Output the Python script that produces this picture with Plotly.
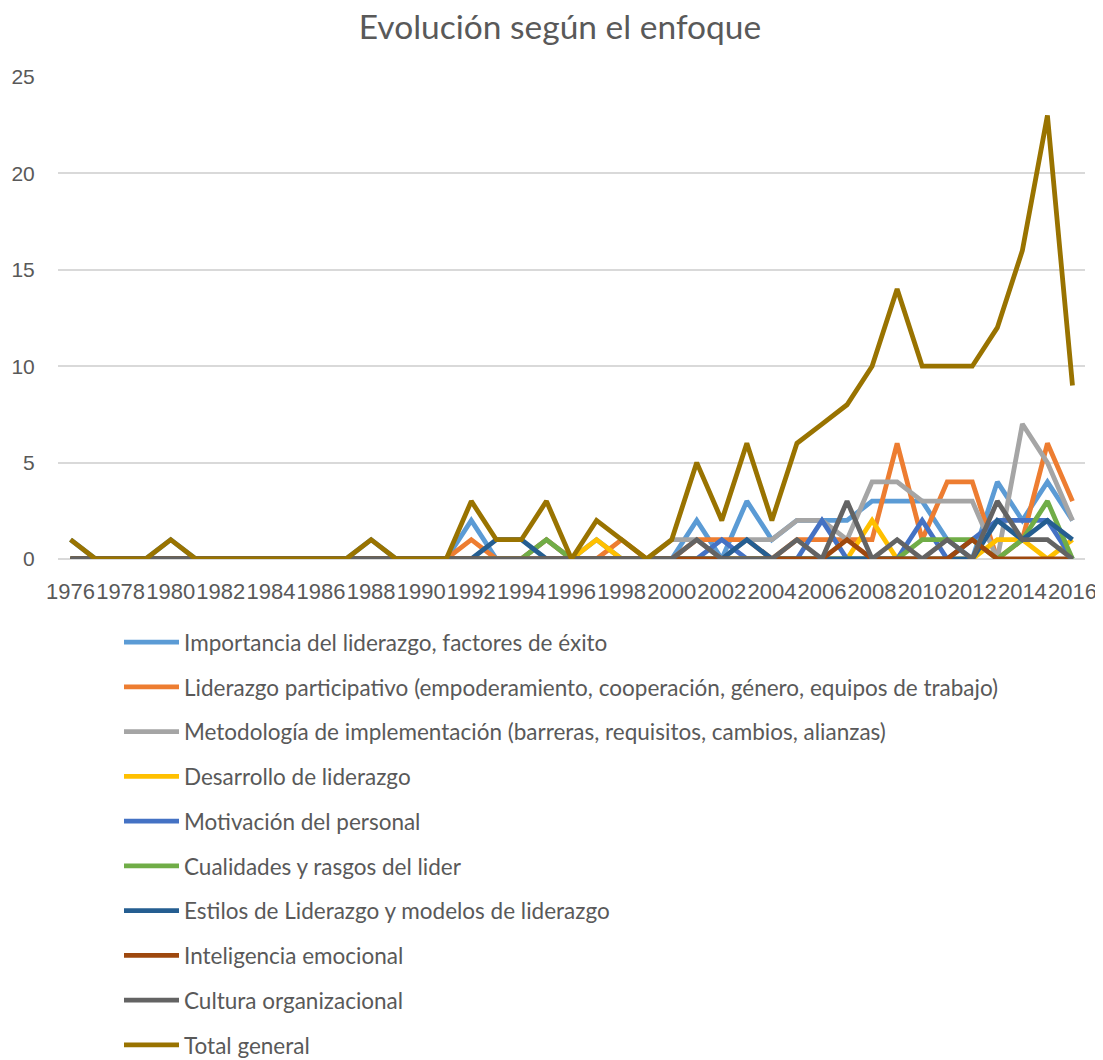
import plotly.graph_objects as go

years = list(range(1976, 2017))

def series(d):
    return [d.get(y, 0) for y in years]

importancia = series({1976: 1, 1980: 1, 1988: 1, 1992: 2, 1995: 1, 1997: 1,
                      2001: 2, 2003: 3, 2004: 1, 2005: 2, 2006: 2, 2007: 2, 2008: 3,
                      2009: 3, 2010: 3, 2011: 1, 2013: 4, 2014: 2, 2015: 4, 2016: 2})
participativo = series({1992: 1, 1995: 1, 1998: 1, 2001: 1, 2002: 1, 2003: 1,
                        2005: 1, 2006: 1, 2007: 1, 2008: 1, 2009: 6, 2010: 1,
                        2011: 4, 2012: 4, 2014: 1, 2015: 6, 2016: 3})
metodologia = series({2000: 1, 2001: 1, 2003: 1, 2004: 1, 2005: 2, 2006: 2, 2007: 1,
                      2008: 4, 2009: 4, 2010: 3, 2011: 3, 2012: 3, 2014: 7, 2015: 5, 2016: 2})
desarrollo = series({1997: 1, 2008: 2, 2013: 1, 2014: 1, 2016: 1})
motivacion = series({2002: 1, 2006: 2, 2010: 2, 2012: 1, 2013: 2, 2014: 2, 2015: 2})
cualidades = series({1995: 1, 2010: 1, 2011: 1, 2012: 1, 2014: 1, 2015: 3})
estilos = series({1993: 1, 1994: 1, 2003: 1, 2013: 2, 2014: 1, 2015: 2, 2016: 1})
inteligencia = series({2007: 1, 2012: 1})
cultura = series({2001: 1, 2005: 1, 2007: 3, 2009: 1, 2011: 1, 2013: 3, 2014: 1, 2015: 1})
total = series({1976: 1, 1980: 1, 1988: 1, 1992: 3, 1993: 1, 1994: 1, 1995: 3, 1997: 2,
                1998: 1, 2000: 1, 2001: 5, 2002: 2, 2003: 6, 2004: 2, 2005: 6, 2006: 7,
                2007: 8, 2008: 10, 2009: 14, 2010: 10, 2011: 10, 2012: 10, 2013: 12,
                2014: 16, 2015: 23, 2016: 9})

names = [
    "Importancia del liderazgo, factores de éxito",
    "Liderazgo participativo (empoderamiento, cooperación, género, equipos de trabajo)",
    "Metodología de implementación (barreras, requisitos, cambios, alianzas)",
    "Desarrollo de liderazgo",
    "Motivación del personal",
    "Cualidades y rasgos del lider",
    "Estilos de Liderazgo y modelos de liderazgo",
    "Inteligencia emocional",
    "Cultura organizacional",
    "Total general",
]
values = [importancia, participativo, metodologia, desarrollo, motivacion,
          cualidades, estilos, inteligencia, cultura, total]
colors = ["#5B9BD5", "#ED7D31", "#A5A5A5", "#FFC000", "#4472C4",
          "#70AD47", "#255E91", "#9E480E", "#636363", "#997300"]

W, H = 1095, 1052  # page body has an 8px margin

fig = go.Figure()
for i, (n, v, c) in enumerate(zip(names, values, colors)):
    fig.add_trace(go.Scatter(x=years, y=v, name=n, mode="lines",
                             line=dict(color=c, width=4.8), legendgroup=str(i)))

fig.update_layout(
    width=W, height=H,
    paper_bgcolor="white", plot_bgcolor="white",
    margin=dict(l=50, r=W - 1077, t=69, b=H - 551, autoexpand=False),
    title=dict(text="Evolución según el enfoque", x=552 / W, xanchor="center",
               y=1 - 19 / H, yanchor="middle",
               font=dict(family="Lato", size=33.5, color="#595959")),
    font=dict(family="Liberation Sans", color="#595959"),
    xaxis=dict(range=[1975.5, 2016.5], tick0=1976, dtick=2, tickangle=0,
               showgrid=False, zeroline=False, showline=False, automargin=False,
               ticks="outside", ticklen=13, tickcolor="rgba(0,0,0,0)",
               tickfont=dict(size=22, color="#595959")),
    yaxis=dict(range=[0, 25], dtick=5, showgrid=True, gridcolor="#D9D9D9",
               gridwidth=1.5, zeroline=True, zerolinecolor="#D9D9D9", zerolinewidth=1.5,
               automargin=False, ticks="outside", ticklen=18,
               tickcolor="rgba(0,0,0,0)", tickfont=dict(size=21, color="#595959")),
    legend=dict(orientation="v", xref="container", yref="container",
                x=111 / W, xanchor="left", y=1 - 613 / H, yanchor="top",
                font=dict(family="Lato", size=22.5, color="#595959"),
                tracegroupgap=12.5, itemwidth=55),
)

fig.write_html("out.html")
